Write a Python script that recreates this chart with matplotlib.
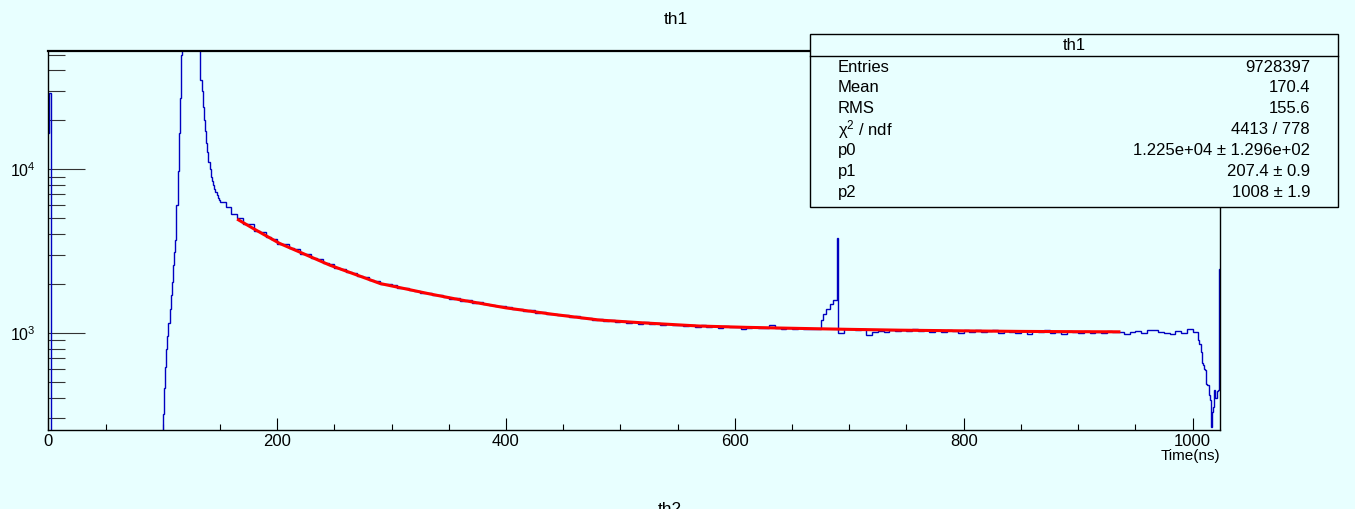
import numpy as np
import matplotlib
matplotlib.use('Agg')
import matplotlib.pyplot as plt
from matplotlib.patches import Rectangle
from matplotlib.lines import Line2D

plt.rcParams['font.family'] = ['Liberation Sans', 'DejaVu Sans']
plt.rcParams['mathtext.fontset'] = 'custom'
plt.rcParams['mathtext.rm'] = 'Liberation Sans'
plt.rcParams['mathtext.it'] = 'Liberation Sans:italic'
plt.rcParams['mathtext.bf'] = 'Liberation Sans:bold'

# ---------------- data ----------------
early_edges = [0, 1, 2, 3, 99]
early_counts = [16600, 29000, 0, 0]

# 1 ns bins, 99 -> 117
rise_counts = [240, 320, 460, 620, 800, 950, 1150, 1400, 1700, 2050,
               2600, 3100, 3700, 6000, 9800, 16500, 27000, 50000]
# 1 ns bins, 117 -> 133 (clipped by the axis top)
peak_counts = [200000, 450000, 600000, 700000, 650000, 600000, 550000, 500000,
               450000, 400000, 350000, 300000, 250000, 180000, 120000, 80000]
# 1 ns bins, 133 -> 150
fall_counts = [35000, 30000, 24000, 20000, 17000, 14500, 12800, 11000, 10000,
               9000, 8400, 8000, 7600, 7200, 6900, 6700, 6500]
# 5 ns bins, 150 -> 165
fall2_counts = [6300, 5850, 5350]
# 5 ns bins, 165 -> 675
decay_counts = [5000, 4650, 4600, 4200, 4150, 3850, 3750,
                3500, 3480, 3280, 3250, 3050, 3020, 2850, 2830, 2680, 2640,
                2500, 2470, 2350, 2330, 2230, 2200, 2090, 2080, 1990, 1980,
                1950, 1880, 1890, 1820, 1810, 1750, 1760, 1700, 1710, 1650,
                1620, 1630, 1570, 1590, 1520, 1540, 1490, 1480, 1450, 1460,
                1430, 1390, 1400, 1360, 1370, 1330, 1340, 1300, 1310, 1280,
                1290, 1250, 1265, 1230, 1240, 1200, 1215, 1185, 1195, 1170,
                1180, 1150, 1170, 1140, 1160, 1130, 1150, 1120, 1135, 1110,
                1120, 1100, 1115, 1090, 1110, 1080, 1100, 1075, 1095, 1080,
                1085, 1060, 1070, 1080, 1065, 1075, 1110, 1070, 1060, 1075,
                1050, 1065, 1055, 1060, 1055]
# bump and spike near 690 ns
bump_edges = [675, 677, 680, 683, 686, 689, 690]
bump_counts = [1200, 1300, 1400, 1500, 1580, 3780]
# 5 ns bins, 690 -> 1005
flat_counts = [1000, 1050, 1055, 1035, 1050, 975, 1010, 1030, 1005, 1040,
               1020, 1045, 1025, 1055, 1030, 1045, 1015, 1040, 1010, 1035,
               1030, 1000, 1035, 1015, 1045, 1005, 1020, 1035, 995, 1025,
               1010, 1000, 1030, 990, 1020, 1010, 1035, 1000, 1015, 980,
               1025, 1010, 1000, 1030, 995, 1015, 1000, 1020, 1005, 1010,
               990, 1010, 1030, 1000, 1040, 1045, 1010, 1000, 985, 1020,
               1000, 1060, 1010]
# 1 ns bins, 1005 -> 1024
drop_counts = [900, 860, 760, 650, 640, 600, 590, 490, 480, 420,
               390, 265, 330, 350, 450, 400, 440, 450, 2440]

# fit curve (red)
fit_x = [165, 180, 202, 225, 246, 270, 290, 310, 333, 360, 400, 440, 482,
         520, 569, 610, 656, 700, 744, 800, 850, 900, 937]
fit_y = [4950, 4300, 3520, 3000, 2590, 2250, 2000, 1870, 1730, 1590, 1420,
         1300, 1196, 1150, 1100, 1080, 1064, 1050, 1038, 1028, 1020, 1016, 1014]

stats_labels = ['Entries', 'Mean', 'RMS', r'χ$^{2}$ / ndf', 'p0', 'p1', 'p2']
stats_values = ['9728397', '170.4', '155.6', '4413 / 778',
                '1.225e+04 ± 1.296e+02', '207.4 ± 0.9', '1008 ± 1.9']

x_ticks = [0, 200, 400, 600, 800, 1000]
x_minor = [v for v in range(50, 1024, 50)]
y_ticks = [1e3, 1e4]
y_tick_labels = [r'$10^{3}$', r'$10^{4}$']
y_minor = [300, 400, 500, 600, 700, 800, 900,
           2000, 3000, 4000, 5000, 6000, 7000, 8000, 9000,
           20000, 30000, 40000, 50000]

# ---------------- build histogram ----------------
edges = list(early_edges)
counts = list(early_counts)
edges += list(np.arange(100, 118))
counts += rise_counts
edges += list(np.arange(118, 134))
counts += peak_counts
edges += list(np.arange(134, 151))
counts += fall_counts
edges += list(np.arange(155, 166, 5))
counts += fall2_counts
edges += list(np.arange(170, 676, 5))
counts += decay_counts
edges += bump_edges[1:]
counts += bump_counts
edges += list(np.arange(695, 1006, 5))
counts += flat_counts
edges += list(np.arange(1006, 1025))
counts += drop_counts

BG = '#e8ffff'
BLUE = '#0000c0'

W, H = 1355, 509
fig = plt.figure(figsize=(W / 100, H / 100), dpi=100, facecolor=BG)
ax = fig.add_axes([48.3 / W, 1 - 430 / H, (1220 - 48.3) / W, (430 - 51) / H])
ax.set_facecolor(BG)

ax.stairs(counts, edges, color=BLUE, lw=1.0, baseline=None, zorder=2)
ax.plot(fit_x, fit_y, color='#ff0000', lw=2.2, zorder=3, solid_capstyle='butt')

ax.set_yscale('log')
ax.set_xlim(0, 1024)
ax.set_ylim(255, 52600)

ax.set_xticks(x_ticks)
ax.set_xticklabels([str(v) for v in x_ticks])
ax.set_xticks(x_minor, minor=True)
ax.set_yticks(y_ticks)
ax.set_yticklabels(y_tick_labels)
ax.set_yticks(y_minor, minor=True)
ax.yaxis.set_minor_formatter(matplotlib.ticker.NullFormatter())

ax.tick_params(axis='x', which='major', direction='in', length=8.4, width=0.8,
               labelsize=12, pad=3, top=False)
ax.tick_params(axis='x', which='minor', direction='in', length=4.3, width=0.8, top=False)
ax.tick_params(axis='y', which='major', direction='in', length=26.4, width=0.8,
               labelsize=11.5, pad=9, right=False, color='#333333')
ax.tick_params(axis='y', which='minor', direction='in', length=12.5, width=0.8,
               right=False, color='#333333')

for s in ['left', 'right', 'bottom']:
    ax.spines[s].set_linewidth(1.0)
    ax.spines[s].set_color('black')
ax.spines['top'].set_linewidth(1.6)

fig.text(676 / W, 1 - 20 / H, 'th1', ha='center', va='center', fontsize=12.5)
fig.text(1220 / W, 1 - 456 / H, 'Time(ns)', ha='right', va='center', fontsize=11)
fig.text(670 / W, 1 - 502 / H, 'th2', ha='center', va='top', fontsize=12.5)

# stats box
bx0, bx1, by0, by1 = 810, 1338, 34, 207
fig.add_artist(Rectangle((bx0 / W, 1 - by1 / H), (bx1 - bx0) / W, (by1 - by0) / H,
                         transform=fig.transFigure, facecolor=BG, edgecolor='black',
                         lw=1.0, zorder=10))
fig.add_artist(Line2D([bx0 / W, bx1 / W], [1 - 56 / H, 1 - 56 / H],
                      transform=fig.transFigure, color='black', lw=1.0, zorder=11))
fig.text((bx0 + bx1) / 2 / W, 1 - 45 / H, 'th1', ha='center', va='center',
         fontsize=12, zorder=12)
row_y = np.linspace(67, 192, len(stats_labels))
for lab, val, yy in zip(stats_labels, stats_values, row_y):
    fig.text(838 / W, 1 - yy / H, lab, ha='left', va='center', fontsize=12, zorder=12)
    fig.text(1310 / W, 1 - yy / H, val, ha='right', va='center', fontsize=12, zorder=12)

fig.savefig('out.png', dpi=100, facecolor=BG)
